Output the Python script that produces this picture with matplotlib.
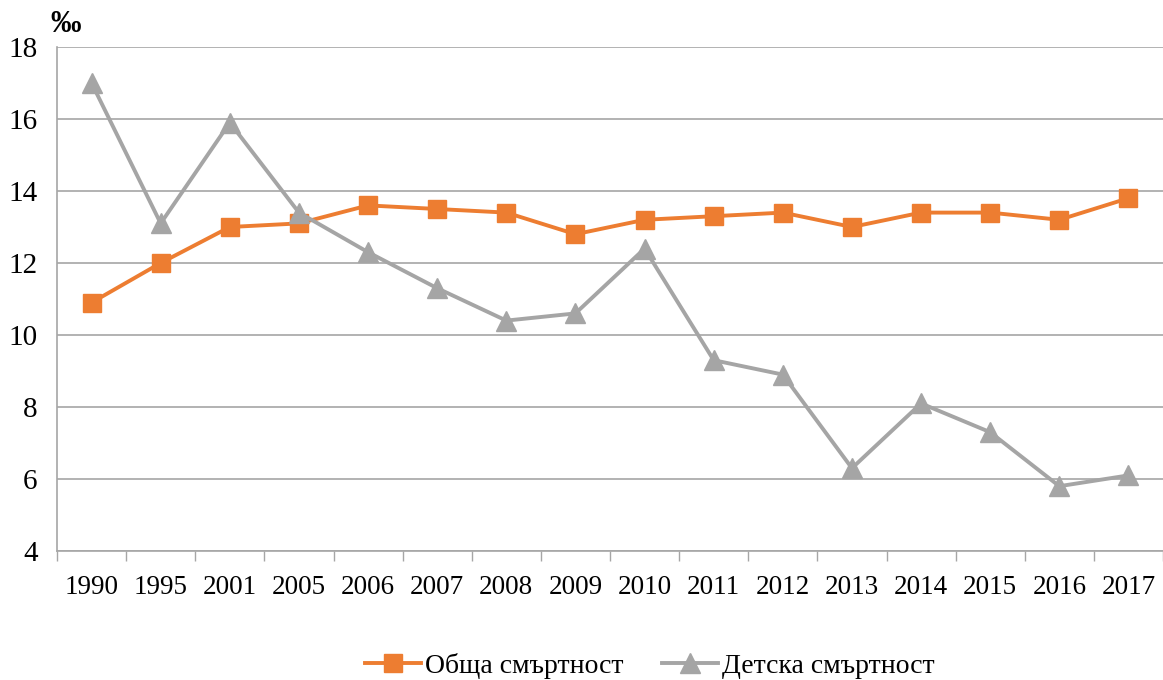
import matplotlib
matplotlib.use("Agg")
import matplotlib.pyplot as plt
import numpy as np

plt.rcParams['font.family'] = ['Liberation Serif', 'DejaVu Serif']

years = ["1990", "1995", "2001", "2005", "2006", "2007", "2008", "2009",
         "2010", "2011", "2012", "2013", "2014", "2015", "2016", "2017"]
total_mortality = [10.9, 12.0, 13.0, 13.1, 13.6, 13.5, 13.4, 12.8,
                   13.2, 13.3, 13.4, 13.0, 13.4, 13.4, 13.2, 13.8]
child_mortality = [17.0, 13.1, 15.9, 13.4, 12.3, 11.3, 10.4, 10.6,
                   12.4, 9.3, 8.9, 6.3, 8.1, 7.3, 5.8, 6.1]

orange = '#ED7D31'
gray = '#A5A5A5'
grid_col = '#A6A6A6'

fig = plt.figure(figsize=(11.63, 6.8), dpi=100)
ax = fig.add_axes([57 / 1163, 1 - 551 / 680, 1 - 57 / 1163, (551 - 47) / 680])

x = np.arange(len(years))
ax.plot(x, total_mortality, color=orange, lw=2.8, marker='s', ms=13.5,
        label='Обща смъртност', zorder=3)
ax.plot(x, child_mortality, color=gray, lw=2.8, marker='^', ms=14.5,
        label='Детска смъртност', zorder=3)

ax.set_ylim(4, 18)
ax.set_yticks(range(4, 19, 2))
ax.set_xlim(-0.5, len(years) - 0.5)
ax.set_xticks(x)
ax.set_xticklabels(years)
ax.set_xticks(np.arange(-0.5, len(years), 1), minor=True)
ax.tick_params(axis='x', which='major', length=0, labelsize=19.5, pad=17)
ax.tick_params(axis='x', which='minor', length=7, width=1, color=grid_col)
ax.tick_params(axis='y', length=0, labelsize=21, pad=14)

ax.grid(axis='y', color=grid_col, lw=1.2)
ax.set_axisbelow(True)
for s in ['top', 'right']:
    ax.spines[s].set_visible(False)
for s in ['left', 'bottom']:
    ax.spines[s].set_color(grid_col)
    ax.spines[s].set_linewidth(1.2)

fig.text(66 / 1163, 1 - 24 / 680, '‰', fontsize=22, fontweight='bold',
         ha='center', va='center')

fig.legend(loc='center', bbox_to_anchor=(650 / 1163, 1 - 666 / 680), ncol=2,
           frameon=False, fontsize=20, handlelength=2.0, columnspacing=1.4,
           handletextpad=0.15, markerscale=1.0)

fig.savefig('out.png', dpi=100)
